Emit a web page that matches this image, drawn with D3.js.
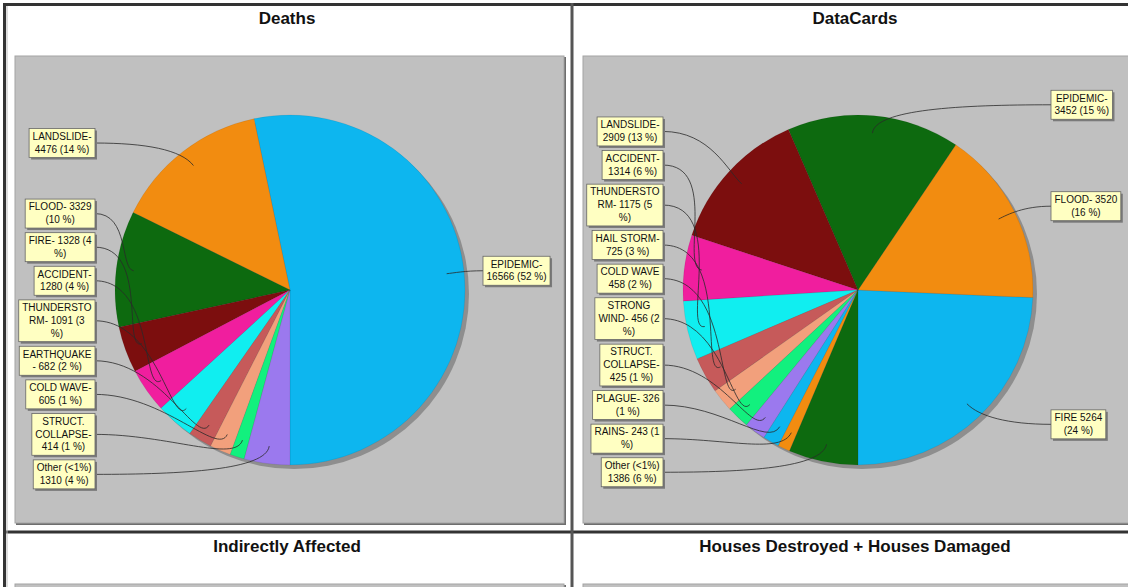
<!DOCTYPE html>
<html>
<head>
<meta charset="utf-8">
<script src="https://cdn.jsdelivr.net/npm/d3@7"></script>
<style>
  body { margin: 0; background: #fff; }
  svg { display: block; font-family: "Liberation Sans", Arial, sans-serif; }
</style>
</head>
<body>
<div id="chart"></div>
<script>
// --- data ---
const deathsNames = ["EPIDEMIC", "LANDSLIDE", "FLOOD", "FIRE", "ACCIDENT", "THUNDERSTORM",
  "EARTHQUAKE", "COLD WAVE", "STRUCT. COLLAPSE", "Other (<1%)"];
const deathsValues = [16566, 4476, 3329, 1328, 1280, 1091, 682, 605, 414, 1310];
const deathsLabels = ["EPIDEMIC-|16566 (52 %)", "LANDSLIDE-|4476 (14 %)", "FLOOD- 3329|(10 %)",
  "FIRE- 1328 (4|%)", "ACCIDENT-|1280 (4 %)", "THUNDERSTO|RM- 1091 (3|%)", "EARTHQUAKE|- 682 (2 %)",
  "COLD WAVE-|605 (1 %)", "STRUCT.|COLLAPSE-|414 (1 %)", "Other (<1%)|1310 (4 %)"];

const cardsNames = ["FIRE", "FLOOD", "EPIDEMIC", "LANDSLIDE", "ACCIDENT", "THUNDERSTORM", "HAIL STORM",
  "COLD WAVE", "STRONG WIND", "STRUCT. COLLAPSE", "PLAGUE", "RAINS", "Other (<1%)"];
const cardsValues = [5264, 3520, 3452, 2909, 1314, 1175, 725, 458, 456, 425, 326, 243, 1386];
const cardsLabels = ["FIRE 5264|(24 %)", "FLOOD- 3520|(16 %)", "EPIDEMIC-|3452 (15 %)", "LANDSLIDE-|2909 (13 %)",
  "ACCIDENT-|1314 (6 %)", "THUNDERSTO|RM- 1175 (5|%)", "HAIL STORM-|725 (3 %)", "COLD WAVE|458 (2 %)",
  "STRONG|WIND- 456 (2|%)", "STRUCT.|COLLAPSE-|425 (1 %)", "PLAGUE- 326|(1 %)", "RAINS- 243 (1|%)",
  "Other (<1%)|1386 (6 %)"];

const panelTitles = ["Deaths", "DataCards", "Indirectly Affected", "Houses Destroyed + Houses Damaged"];

const palette = ["#0db6ef", "#f28c10", "#0d6a0f", "#7c0e0e", "#f01e9e", "#10eef0",
  "#c65a5a", "#f2a07c", "#12f07e", "#9b79ee"];

// --- layout ---
const W = 1128, H = 587;
const cellW = 564;
const plot = {dx: 9, dy: 50, w: 550, h: 468};
const R = 175, labelR = 186;
const lh = 12.8, pad = 3.4, gap = 4.6;

const svg = d3.select("#chart").append("svg")
  .attr("width", W)
  .attr("height", H);

const cells = [
  {x: 6, y: 6, names: deathsNames, values: deathsValues, labels: deathsLabels},
  {x: 574, y: 6, names: cardsNames, values: cardsValues, labels: cardsLabels},
  {x: 6, y: 534},
  {x: 574, y: 534}
];

cells.forEach((c, i) => drawPanel(c, panelTitles[i]));

// frame lines of the table
const frame = svg.append("g");
frame.append("line").attr("x1", 3).attr("x2", W).attr("y1", 4.5).attr("y2", 4.5)
  .attr("stroke", "#333").attr("stroke-width", 3);
frame.append("line").attr("x1", 4.5).attr("x2", 4.5).attr("y1", 3).attr("y2", H)
  .attr("stroke", "#333").attr("stroke-width", 3);
frame.append("line").attr("x1", 3).attr("x2", W).attr("y1", 532).attr("y2", 532)
  .attr("stroke", "#333").attr("stroke-width", 3);
frame.append("line").attr("x1", 572).attr("x2", 572).attr("y1", 3).attr("y2", H)
  .attr("stroke", "#555").attr("stroke-width", 3);
frame.append("line").attr("x1", 7).attr("x2", 7).attr("y1", 6).attr("y2", H)
  .attr("stroke", "#bbb").attr("stroke-width", 1);

function drawPanel(cell, title) {
  const g = svg.append("g").attr("transform", `translate(${cell.x},${cell.y})`);

  g.append("text")
    .attr("x", cellW / 2 - 1)
    .attr("y", 18)
    .attr("text-anchor", "middle")
    .attr("font-size", 17)
    .attr("font-weight", "bold")
    .attr("fill", "#111")
    .text(title);

  // plot background
  g.append("rect")
    .attr("x", plot.dx + 1).attr("y", plot.dy + 1)
    .attr("width", plot.w).attr("height", plot.h)
    .attr("fill", "#6e6e6e");
  g.append("rect")
    .attr("x", plot.dx).attr("y", plot.dy)
    .attr("width", plot.w - 1).attr("height", plot.h - 1)
    .attr("fill", "#c0c0c0")
    .attr("stroke", "#a4a4a4")
    .attr("stroke-width", 1);

  if (!cell.values) return;

  const cx = plot.dx + plot.w / 2, cy = plot.dy + plot.h / 2;
  const data = cell.values.map((v, i) => ({name: cell.names[i], value: v, label: cell.labels[i]}));

  const pie = d3.pie()
    .sort(null)
    .value(d => d.value)
    .startAngle(Math.PI)
    .endAngle(-Math.PI);
  const arcs = pie(data);
  const arc = d3.arc().innerRadius(0).outerRadius(R);

  const pg = g.append("g").attr("transform", `translate(${cx},${cy})`);
  pg.append("circle").attr("cx", 4).attr("cy", 4).attr("r", R).attr("fill", "#8e8e8e");
  pg.selectAll("path.slice")
    .data(arcs)
    .join("path")
    .attr("class", "slice")
    .attr("d", arc)
    .attr("fill", (d, i) => palette[i % palette.length])
    .attr("stroke", "rgba(0,0,0,0.12)")
    .attr("stroke-width", 0.6);

  // label placement
  arcs.forEach(a => {
    a.mid = (a.startAngle + a.endAngle) / 2;
    a.side = Math.sin(a.mid) > 0 ? 1 : -1;
    a.lines = a.data.label.split("|");
    a.h = a.lines.length * lh + pad;
    a.ideal = -labelR * Math.cos(a.mid);
  });
  [-1, 1].forEach(side => {
    const list = arcs.filter(a => a.side === side).sort((a, b) => a.ideal - b.ideal);
    let limit = Infinity;
    for (let k = list.length - 1; k >= 0; k--) {
      const a = list[k];
      a.y = Math.min(a.ideal, limit - a.h / 2);
      limit = a.y - a.h / 2 - gap;
    }
    let top = plot.dy - cy + 6;
    list.forEach(a => {
      if (a.y - a.h / 2 < top) a.y = top + a.h / 2;
      top = a.y + a.h / 2 + gap;
    });
  });

  const lineG = pg.append("g");
  const boxG = pg.append("g");

  arcs.forEach(a => {
    const bg = boxG.append("g");
    const txt = bg.append("text")
      .attr("text-anchor", "middle")
      .attr("font-size", 10)
      .attr("fill", "#111");
    a.lines.forEach((s, i) => {
      txt.append("tspan").attr("x", 0).attr("y", i * lh).text(s);
    });
    let tw = 0;
    txt.selectAll("tspan").each(function() { tw = Math.max(tw, this.getComputedTextLength()); });
    const bw = tw + 7;
    const bx = a.side < 0 ? -195 - bw : 193;
    const by = a.y - a.h / 2;
    txt.attr("transform", `translate(${bx + bw / 2},${by + pad / 2 + 9.6})`);
    bg.insert("rect", "text")
      .attr("x", bx + 2).attr("y", by + 2)
      .attr("width", bw).attr("height", a.h)
      .attr("fill", "#7a7a7a");
    bg.insert("rect", "text")
      .attr("x", bx).attr("y", by)
      .attr("width", bw).attr("height", a.h)
      .attr("fill", "#ffffc2")
      .attr("stroke", "#666")
      .attr("stroke-width", 0.8);

    // leader line: leaves the box flat, ends with a short radial hook in the slice
    const ax = a.side < 0 ? bx + bw : bx, ay = a.y;
    const ox = Math.sin(a.mid), oy = -Math.cos(a.mid);
    const px = 0.9 * R * ox, py = 0.9 * R * oy;
    const dist = Math.hypot(ax - px, ay - py);
    const k = 0.5 * dist, L = Math.min(0.2 * dist, 24);
    const p = d3.path();
    p.moveTo(ax, ay);
    p.bezierCurveTo(ax - a.side * k, ay, px + ox * L, py + oy * L, px, py);
    lineG.append("path")
      .attr("d", p.toString())
      .attr("fill", "none")
      .attr("stroke", "#2a2a2a")
      .attr("stroke-width", 0.8);
  });
}
</script>
</body>
</html>
